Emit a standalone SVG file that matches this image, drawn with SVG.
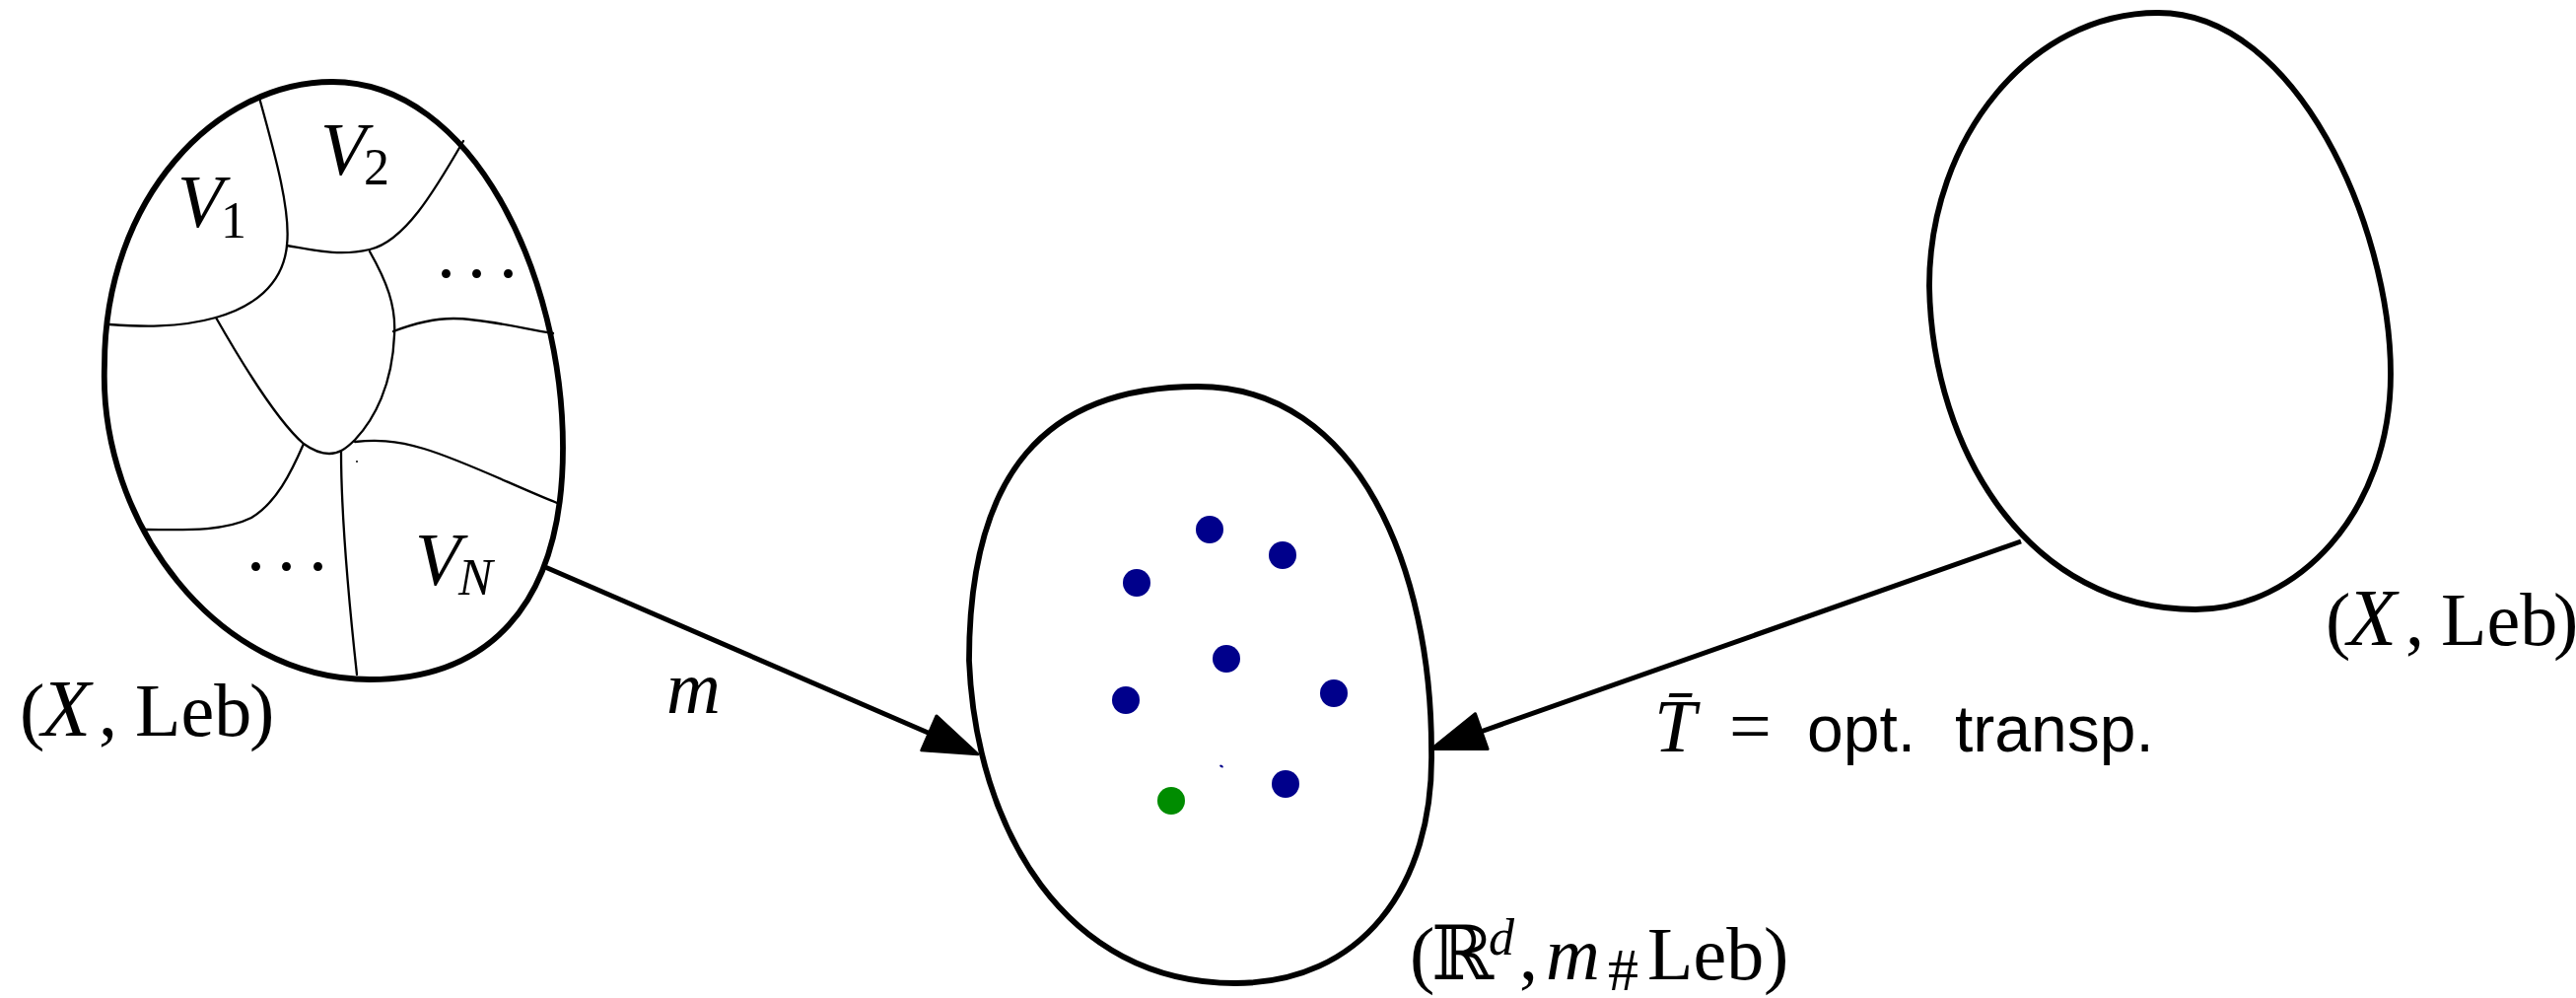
<svg xmlns="http://www.w3.org/2000/svg" width="2613" height="1012" viewBox="0 0 2613 1012">
  <style>
    .outline { fill: #ffffff; stroke: #000000; stroke-width: 5.8; }
    .cell { fill: none; stroke: #000000; stroke-width: 2.3; stroke-linecap: round; }
    .edge { fill: none; stroke: #000000; stroke-width: 5; }
    .math { font-family: "Liberation Serif", "DejaVu Serif", serif; font-size: 76px; fill: #000000; }
    .it { font-style: italic; }
    .bigx { font-size: 82px; }
    .sub { font-size: 52px; }
    .hash { font-size: 62px; }
    .sans { font-family: "Liberation Sans", "DejaVu Sans", sans-serif; font-size: 66px; fill: #000000; }
    .pt { fill: #00008b; }
    .pt-green { fill: #008c00; }
  </style>
  <defs>
    <marker id="arrowhead" markerUnits="userSpaceOnUse" viewBox="-60 -24 62 48" refX="-50" refY="0" markerWidth="62" markerHeight="48" orient="auto">
      <path d="M0,0 L-54,-19 L-54,19 Z" fill="#000000" stroke="#000000" stroke-width="3" stroke-linejoin="round"/>
    </marker>
  </defs>
  <rect width="2613" height="1012" fill="#ffffff"/>

  <g id="connectors">
    <path id="edge-m" class="edge" d="M553,575 L946,745" marker-end="url(#arrowhead)"/>
    <path id="edge-T" class="edge" d="M2050,549 L1499,743" marker-end="url(#arrowhead)"/>
  </g>

  <g id="node-left">
    <path class="outline" d="M337,83 C480,83 571,280 571,454 C571,620 490,689 375,689 C220,689 100,530 106,370 C106,200 220,83 337,83 Z"/>
    <path class="cell" d="M263,99 C280,160 295,215 291,249 C287,290 255,312 219,322 C180,333 140,331 111,329"/>
    <path class="cell" d="M291,249 C320,254 345,260 375,253 C410,245 440,195 470,143"/>
    <path class="cell" d="M375,255 C392,285 402,310 400,340 C398,390 380,425 360,446 C350,456 343,460 334,460 C325,460 315,455 308,450 C285,430 255,385 219,322"/>
    <path class="cell" d="M399,336 C420,328 440,323 460,323 C490,323 530,333 561,338"/>
    <path class="cell" d="M360,448 C380,446 400,446 430,455 C470,467 520,492 565,510"/>
    <path class="cell" d="M308,450 C295,480 280,510 255,525 C225,540 180,537 148,537"/>
    <path class="cell" d="M346,458 C346,530 355,620 362,684"/>
    <circle cx="362" cy="468" r="1" fill="#000000"/>
    <text class="math"><tspan class="it" x="180" y="230">V</tspan><tspan class="sub" x="224" y="241">1</tspan></text>
    <text class="math"><tspan class="it" x="325" y="177">V</tspan><tspan class="sub" x="369" y="187">2</tspan></text>
    <text class="math" x="443 474 506" y="281">...</text>
    <text class="math" x="250 281 313" y="578">...</text>
    <text class="math"><tspan class="it" x="421" y="593">V</tspan><tspan class="sub it" x="465" y="603">N</tspan></text>
    <text class="math"><tspan x="20" y="746">(</tspan><tspan class="it bigx" x="42" y="746">X</tspan><tspan x="100" y="746">,</tspan><tspan x="137" y="746">Leb</tspan><tspan x="253" y="746">)</tspan></text>
  </g>

  <g id="node-middle">
    <path class="outline" d="M1215,392 C1380,392 1452,580 1452,760 C1455,900 1380,997 1253,997 C1080,997 990,840 983,670 C983,480 1060,392 1215,392 Z"/>
    <circle class="pt" cx="1227" cy="537" r="14"/>
    <circle class="pt" cx="1301" cy="563" r="14"/>
    <circle class="pt" cx="1153" cy="591" r="14"/>
    <circle class="pt" cx="1244" cy="668" r="14"/>
    <circle class="pt" cx="1142" cy="710" r="14"/>
    <circle class="pt" cx="1353" cy="703" r="14"/>
    <circle class="pt" cx="1304" cy="795" r="14"/>
    <circle class="pt-green" cx="1188" cy="812" r="14"/>
    <ellipse class="pt" cx="1239" cy="777" rx="2" ry="1.2" transform="rotate(30 1239 777)"/>
    <text class="math"><tspan x="1430" y="993">(</tspan><tspan x="1452" y="993">ℝ</tspan><tspan class="sub it" x="1510" y="968">d</tspan><tspan x="1541" y="993">,</tspan><tspan class="it" x="1568" y="993">m</tspan><tspan class="hash" x="1631" y="1004">#</tspan><tspan x="1671" y="993">Leb</tspan><tspan x="1789" y="993">)</tspan></text>
  </g>

  <g id="node-right">
    <path class="outline" d="M2189,13 C2330,13 2425,230 2425,379 C2425,520 2330,618 2227,618 C2060,618 1960,460 1957,290 C1957,140 2060,13 2189,13 Z"/>
    <text class="math"><tspan x="2359" y="654">(</tspan><tspan class="it bigx" x="2381" y="654">X</tspan><tspan x="2440" y="654">,</tspan><tspan x="2476" y="654">Leb</tspan><tspan x="2590" y="654">)</tspan></text>
  </g>

  <g id="edge-labels">
    <text class="math it" x="676" y="723">m</text>
    <text class="math"><tspan class="it" x="1678" y="762">T̄</tspan><tspan x="1754" y="762">=</tspan></text>
    <text class="sans"><tspan x="1833" y="762">opt.</tspan><tspan x="1983" y="762">transp.</tspan></text>
  </g>
</svg>
